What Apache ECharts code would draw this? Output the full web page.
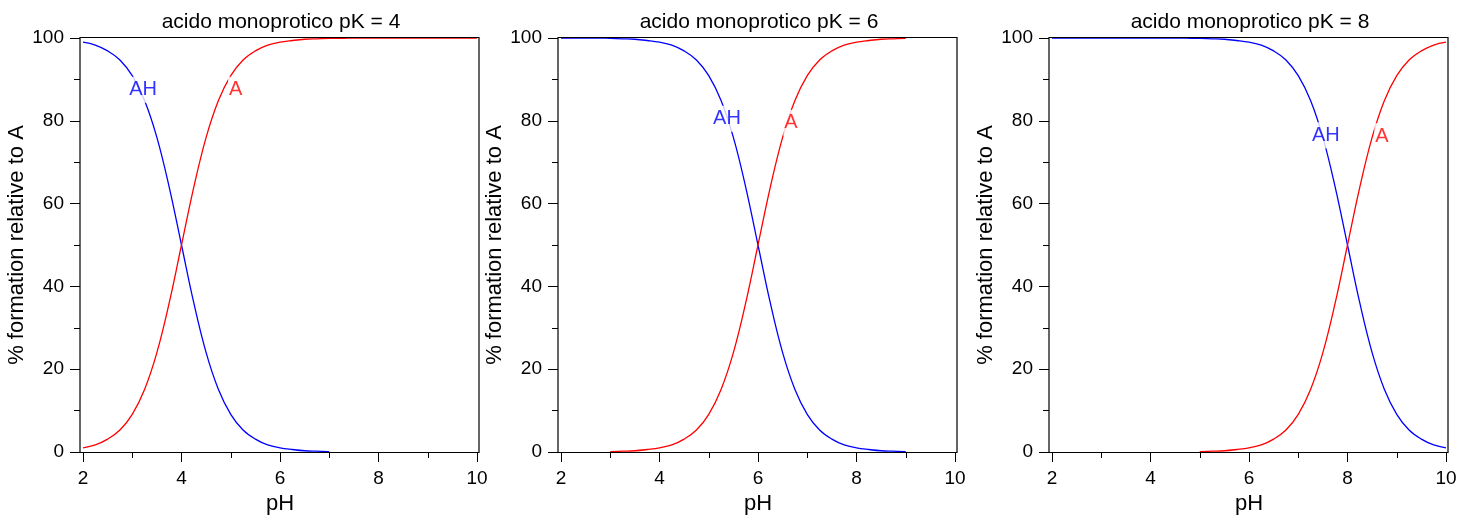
<!DOCTYPE html>
<html>
<head>
<meta charset="utf-8">
<script src="https://cdn.jsdelivr.net/npm/echarts@6/dist/echarts.min.js"></script>
<style>
  html, body { margin: 0; padding: 0; background: #fff; }
  #chart { width: 1463px; height: 517px; }
</style>
</head>
<body>
<div id="chart"></div>
<script>
// pH steps shared by all three panels (0.25 apart, 2 .. 10)
var phValues = [2, 2.25, 2.5, 2.75, 3, 3.25, 3.5, 3.75, 4, 4.25, 4.5, 4.75, 5, 5.25, 5.5, 5.75,
  6, 6.25, 6.5, 6.75, 7, 7.25, 7.5, 7.75, 8, 8.25, 8.5, 8.75, 9, 9.25, 9.5, 9.75, 10];

var panelTitles = ['acido monoprotico pK = 4', 'acido monoprotico pK = 6', 'acido monoprotico pK = 8'];

// % formation (null = not drawn)
var pk4AH = [99.0, 98.3, 96.9, 94.7, 90.9, 84.9, 76.0, 64.0, 50.0, 36.0, 24.0, 15.1, 9.1, 5.3, 3.1, 1.7,
  1.0, 0.6, 0.3, 0.2, 0.1, null, null, null, null, null, null, null, null, null, null, null, null];
var pk4A = [1.0, 1.7, 3.1, 5.3, 9.1, 15.1, 24.0, 36.0, 50.0, 64.0, 76.0, 84.9, 90.9, 94.7, 96.9, 98.3,
  99.0, 99.4, 99.7, 99.8, 99.9, 99.9, 100, 100, 100, 100, 100, 100, 100, 100, 100, 100, 100];

var pk6AH = [100, 100, 100, 100, 99.9, 99.8, 99.7, 99.4, 99.0, 98.3, 96.9, 94.7, 90.9, 84.9, 76.0, 64.0,
  50.0, 36.0, 24.0, 15.1, 9.1, 5.3, 3.1, 1.7, 1.0, 0.6, 0.3, 0.2, 0.1, null, null, null, null];
var pk6A = [null, null, null, null, 0.1, 0.2, 0.3, 0.6, 1.0, 1.7, 3.1, 5.3, 9.1, 15.1, 24.0, 36.0,
  50.0, 64.0, 76.0, 84.9, 90.9, 94.7, 96.9, 98.3, 99.0, 99.4, 99.7, 99.8, 99.9, null, null, null, null];

var pk8AH = [100, 100, 100, 100, 100, 100, 100, 100, 100, 100, 99.98, 99.95, 99.9, 99.8, 99.7, 99.4,
  99.0, 98.3, 96.9, 94.7, 90.9, 84.9, 76.0, 64.0, 50.0, 36.0, 24.0, 15.1, 9.1, 5.3, 3.1, 1.7, 1.0];
var pk8A = [null, null, null, null, null, null, null, null, null, null, null, null, 0.1, 0.2, 0.3, 0.6,
  1.0, 1.7, 3.1, 5.3, 9.1, 15.1, 24.0, 36.0, 50.0, 64.0, 76.0, 84.9, 90.9, 94.7, 96.9, 98.3, 99.0];

// curve label spots [pH, %]
var labelsAH = [[3.22, 87.5], [5.37, 80.5], [7.56, 76.5]];
var labelsA = [[5.1, 87.5], [6.67, 79.5], [8.7, 76.3]];

var xTicks = [2, 4, 6, 8, 10];

var seriesAH = [pk4AH, pk6AH, pk8AH];
var seriesA = [pk4A, pk6A, pk8A];

function toPairs(vals) {
  var out = [];
  for (var i = 0; i < phValues.length; i++) {
    if (vals[i] != null) out.push([phValues[i], vals[i]]);
  }
  return out;
}

var font = 'Liberation Sans, Arial, sans-serif';
var gridLefts = [83, 561, 1052];
var gridW = 394, gridTop = 38, gridH = 414;

var option = {
  animation: false,
  textStyle: { fontFamily: font },
  title: [], grid: [], xAxis: [], yAxis: [], series: [], graphic: []
};

for (var p = 0; p < 3; p++) {
  var left = gridLefts[p];
  option.title.push({
    text: panelTitles[p],
    left: left + gridW / 2 - 4,
    textAlign: 'center',
    top: 7,
    textStyle: { fontFamily: font, fontSize: 21, fontWeight: 'normal', color: '#000' }
  });
  option.grid.push({ left: left, top: gridTop, width: gridW, height: gridH, outerBoundsMode: 'none' });
  option.xAxis.push({
    gridIndex: p, type: 'value', min: 2, max: 10, interval: 2,
    name: 'pH', nameLocation: 'middle', nameGap: 41,
    nameTextStyle: { fontFamily: font, fontSize: 22, color: '#000' },
    axisLine: { show: false },
    axisTick: { length: 10, lineStyle: { color: '#000' } },
    minorTick: { show: true, splitNumber: 2, length: 6, lineStyle: { color: '#000' } },
    axisLabel: { margin: 17, fontFamily: font, fontSize: 19, color: '#000',
      customValues: xTicks },
    splitLine: { show: false }
  });
  option.yAxis.push({
    gridIndex: p, type: 'value', min: 0, max: 100, interval: 20, offset: 3,
    name: '% formation relative to A', nameLocation: 'middle', nameGap: 47,
    nameTextStyle: { fontFamily: font, fontSize: 22, color: '#000' },
    axisLine: { show: false },
    axisTick: { length: 10, lineStyle: { color: '#000' } },
    minorTick: { show: true, splitNumber: 2, length: 6, lineStyle: { color: '#000' } },
    axisLabel: { margin: 16, fontFamily: font, fontSize: 19, color: '#000' },
    splitLine: { show: false }
  });
  // frame around the plot area
  option.graphic.push({
    type: 'rect', z: 100, silent: true,
    shape: { x: left - 3, y: gridTop - 0.5, width: gridW + 5, height: gridH + 1 },
    style: { fill: 'none', stroke: '#000', lineWidth: 1.2 }
  });
  option.series.push({
    type: 'line', xAxisIndex: p, yAxisIndex: p, data: toPairs(seriesAH[p]),
    smooth: 0.4, showSymbol: false, lineStyle: { color: '#0000ff', width: 1.3 }, z: 2
  });
  option.series.push({
    type: 'line', xAxisIndex: p, yAxisIndex: p, data: toPairs(seriesA[p]),
    smooth: 0.4, showSymbol: false, lineStyle: { color: '#ff0000', width: 1.3 }, z: 2
  });
  option.series.push({
    type: 'scatter', xAxisIndex: p, yAxisIndex: p, data: [labelsAH[p]], symbolSize: 0, z: 5,
    label: { show: true, position: 'inside', formatter: 'AH', color: '#0000ff',
      fontFamily: font, fontSize: 20, backgroundColor: '#fff', padding: [3, 1] }
  });
  option.series.push({
    type: 'scatter', xAxisIndex: p, yAxisIndex: p, data: [labelsA[p]], symbolSize: 0, z: 5,
    label: { show: true, position: 'inside', formatter: 'A', color: '#ff0000',
      fontFamily: font, fontSize: 20, backgroundColor: '#fff', padding: [3, 1] }
  });
}

var chart = echarts.init(document.getElementById('chart'));
chart.setOption(option);
</script>
</body>
</html>
